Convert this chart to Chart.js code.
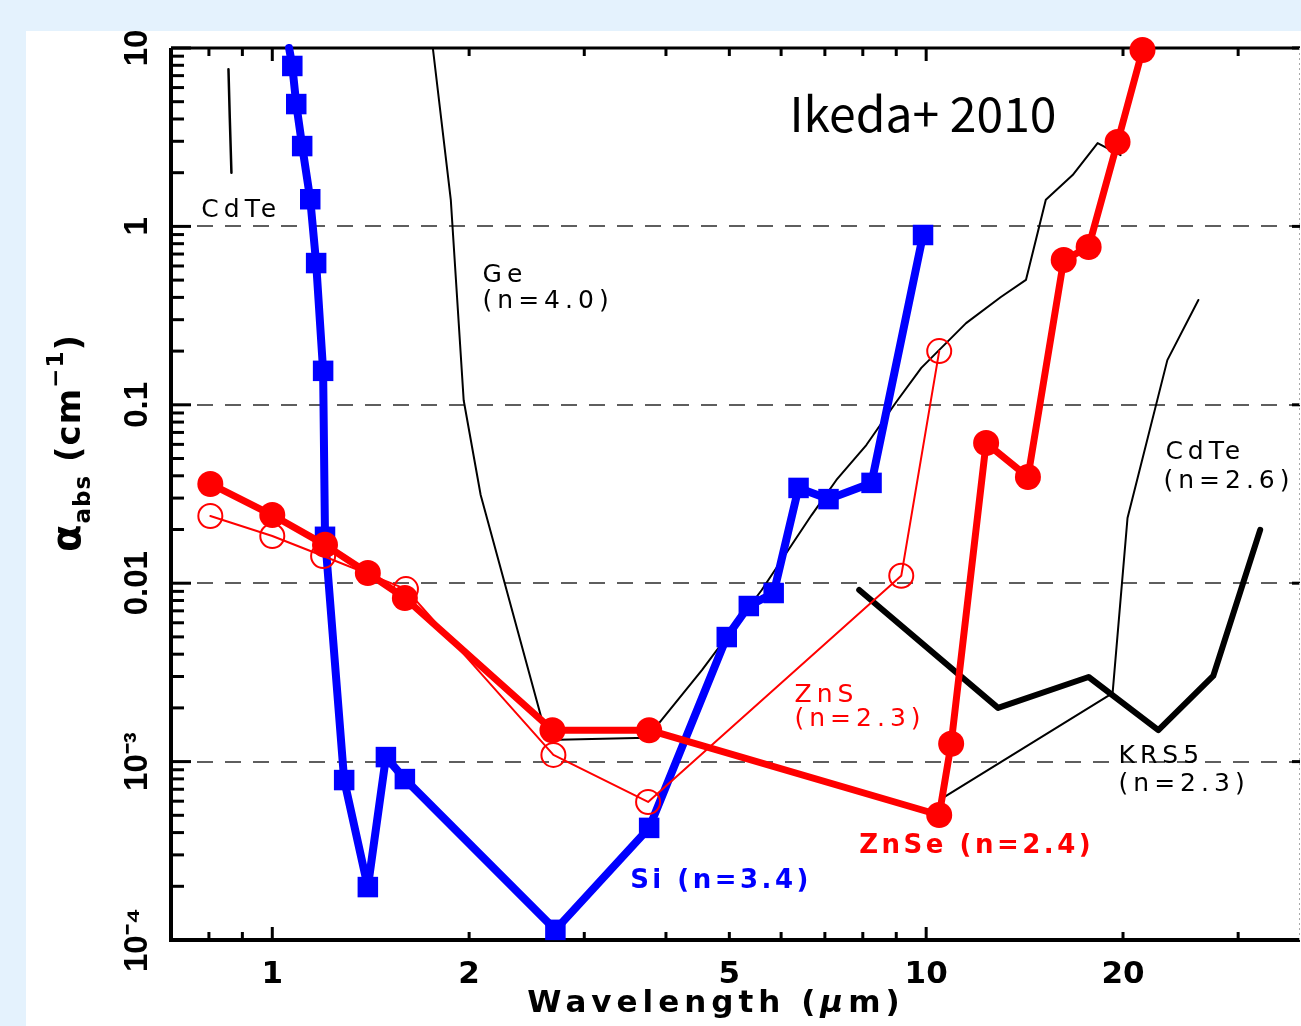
<!DOCTYPE html>
<html lang="en">
<head>
<meta charset="UTF-8" />
<title>Absorption coefficient vs wavelength (Ikeda+ 2010)</title>
<script src="https://cdn.jsdelivr.net/npm/chart.js"></script>
<style>
  body { margin: 0; background: #e4f2fd; }
  #wrap { position: relative; width: 1301px; height: 1026px; overflow: hidden; }
  #panel { position: absolute; left: 26px; top: 31px; right: 0; bottom: 0; background: #fff; }
  canvas { position: absolute; left: 0; top: 0; }
</style>
</head>
<body>
<div id="wrap">
  <div id="panel"></div>
  <canvas id="absChart" width="1301" height="1026"></canvas>
</div>

<script>
// wavelength in micron, alpha_abs in cm^-1
const siWave  = [1.061, 1.073, 1.088, 1.111, 1.143, 1.167, 1.196, 1.204, 1.288, 1.400, 1.492, 1.595, 2.71, 3.77, 4.955, 5.355, 5.845, 6.38, 7.09, 8.25, 9.89];
const siAlpha = [10, 7.93, 4.85, 2.82, 1.42, 0.623, 0.155, 0.0182, 7.88e-4, 1.98e-4, 1.06e-3, 7.98e-4, 1.14e-4, 4.25e-4, 4.99e-3, 7.45e-3, 8.81e-3, 0.0342, 0.0296, 0.0365, 0.895];

const znseWave  = [0.804, 1.0, 1.204, 1.400, 1.595, 2.682, 3.77, 10.47, 10.92, 12.35, 14.31, 16.23, 17.72, 19.62, 21.42];
const znseAlpha = [0.0360, 0.0241, 0.0164, 0.0114, 8.26e-3, 1.50e-3, 1.50e-3, 5.02e-4, 1.26e-3, 0.0611, 0.0394, 0.648, 0.766, 2.97, 9.74];

const znsWave  = [0.804, 1.0, 1.196, 1.601, 2.691, 3.756, 9.16, 10.47];
const znsAlpha = [0.0238, 0.0184, 0.0142, 9.27e-3, 1.09e-3, 5.94e-4, 0.0110, 0.200];

const geWave  = [1.760, 1.875, 1.962, 2.083, 2.635, 3.743, 4.54, 5.604, 6.68, 7.29, 8.10, 9.00, 9.83, 11.51, 13.01, 14.21, 15.24, 16.75, 18.29, 19.83];
const geAlpha = [10, 1.41, 0.106, 0.0312, 1.32e-3, 1.36e-3, 3.26e-3, 9.16e-3, 0.0241, 0.0379, 0.0595, 0.1037, 0.161, 0.287, 0.402, 0.501, 1.41, 1.94, 2.93, 2.51];

const cdteWave  = [10.65, 19.28, 20.32, 23.38, 26.08];
const cdteAlpha = [6.33e-4, 2.42e-3, 0.0232, 0.178, 0.387];

const cdteShortWave  = [0.857, 0.861, 0.866];
const cdteShortAlpha = [7.6, 4.05, 2.0];

const krsWave  = [7.90, 12.88, 17.72, 22.65, 27.48, 32.42];
const krsAlpha = [9.16e-3, 2.00e-3, 2.98e-3, 1.50e-3, 3.02e-3, 0.0199];

// axes
const xTicks      = [0.8, 0.9, 1, 2, 3, 4, 5, 6, 7, 8, 9, 10, 20, 30];
const xLabelVals  = [1, 2, 5, 10, 20];
const xLabelText  = ['1', '2', '5', '10', '20'];
const yDecades    = [1e-4, 1e-3, 0.01, 0.1, 1, 10];
const yDecadeText = ['10\u207B\u2074', '10\u207B\u00B3', '0.01', '0.1', '1', '10'];

// text labels placed in data coordinates (left edge, baseline)
const notes = [
  { text: 'CdTe',         x: 0.779, y: 1.129,   color: '#000', bold: false },
  { text: 'Ge',           x: 2.097, y: 0.488,   color: '#000', bold: false },
  { text: '(n=4.0)',      x: 2.097, y: 0.349,   color: '#000', bold: false },
  { text: 'CdTe',         x: 23.22, y: 0.0497,  color: '#000', bold: false },
  { text: '(n=2.6)',      x: 23.06, y: 0.0342,  color: '#000', bold: false },
  { text: 'ZnS',          x: 6.29,  y: 2.16e-3, color: '#ff0000', bold: false },
  { text: '(n=2.3)',      x: 6.29,  y: 1.58e-3, color: '#ff0000', bold: false },
  { text: 'KRS5',         x: 19.69, y: 9.82e-4, color: '#000', bold: false },
  { text: '(n=2.3)',      x: 19.69, y: 6.84e-4, color: '#000', bold: false },
  { text: 'ZnSe (n=2.4)', x: 7.90,  y: 3.07e-4, color: '#ff0000', bold: true },
  { text: 'Si (n=3.4)',   x: 3.526, y: 1.96e-4, color: '#0000ff', bold: true }
];

const near = (a, b) => Math.abs(Math.log10(a) - Math.log10(b)) < 1e-6;
const isDecade = v => Math.abs(Math.log10(v) - Math.round(Math.log10(v))) < 1e-6;
const pts = (xs, ys) => xs.map((x, i) => ({ x: x, y: ys[i] }));

function yTickList() {
  const list = [];
  for (let d = 0; d < yDecades.length - 1; d++) {
    for (let m = 1; m < 10; m++) list.push(Number((yDecades[d] * m).toPrecision(3)));
  }
  list.push(yDecades[yDecades.length - 1]);
  return list;
}

function drawRuns(ctx, runs, x, y) {
  let cx = x;
  runs.forEach(r => {
    ctx.font = r.font;
    ctx.fillText(r.text, cx, y + (r.dy || 0));
    cx += ctx.measureText(r.text).width;
  });
}
function runsWidth(ctx, runs) {
  let w = 0;
  runs.forEach(r => { ctx.font = r.font; w += ctx.measureText(r.text).width; });
  return w;
}

const frame = {
  id: 'frame',
  beforeDatasetsDraw(chart) {
    const { ctx, chartArea: a, scales: { x, y } } = chart;
    const seg = (x1, y1, x2, y2) => { ctx.beginPath(); ctx.moveTo(x1, y1); ctx.lineTo(x2, y2); ctx.stroke(); };
    ctx.save();
    ctx.strokeStyle = '#000';
    ctx.lineJoin = 'miter';
    ctx.lineWidth = 4;
    ctx.beginPath();
    ctx.moveTo(a.left, a.top); ctx.lineTo(a.left, a.bottom); ctx.lineTo(a.right, a.bottom);
    ctx.stroke();
    ctx.lineWidth = 3;
    seg(a.left, a.top, a.right, a.top);
    // inward tick marks
    x.ticks.forEach(t => {
      const px = x.getPixelForValue(t.value);
      const len = isDecade(t.value) ? 13 : 8;
      seg(px, a.bottom, px, a.bottom - len);
      seg(px, a.top, px, a.top + len);
    });
    y.ticks.forEach(t => {
      const py = y.getPixelForValue(t.value);
      seg(a.left, py, a.left + (isDecade(t.value) ? 20 : 13), py);
      if (isDecade(t.value)) seg(a.right, py, a.right - 8, py);
    });
    // right edge of the cropped frame
    ctx.lineWidth = 1;
    ctx.strokeStyle = '#aaa';
    ctx.setLineDash([2, 3]);
    seg(a.right - 0.5, a.top, a.right - 0.5, a.bottom);
    ctx.restore();
  },
  afterDraw(chart) {
    const { ctx, scales: { x, y } } = chart;
    ctx.save();
    ctx.textBaseline = 'alphabetic';
    ctx.textAlign = 'left';

    // curve labels
    notes.forEach(n => {
      ctx.fillStyle = n.color;
      ctx.letterSpacing = n.bold ? '3.5px' : '5px';
      ctx.font = (n.bold ? 'bold 26px' : '25px') + ' "DejaVu Sans"';
      ctx.fillText(n.text, x.getPixelForValue(n.x), y.getPixelForValue(n.y));
    });

    // x axis title
    ctx.fillStyle = '#000';
    ctx.letterSpacing = '5px';
    const xt = [
      { text: 'Wavelength (', font: 'bold 31px "DejaVu Sans"' },
      { text: '\u00B5', font: 'italic bold 31px "DejaVu Sans"' },
      { text: 'm)', font: 'bold 31px "DejaVu Sans"' }
    ];
    const xw = runsWidth(ctx, xt);
    drawRuns(ctx, xt, 716 - xw / 2, 1012);

    // y axis title, rotated
    ctx.translate(80, 552);
    ctx.rotate(-Math.PI / 2);
    ctx.letterSpacing = '1px';
    drawRuns(ctx, [
      { text: '\u03B1', font: 'bold 40px "DejaVu Sans"' },
      { text: 'abs', font: 'bold 23px "DejaVu Sans"', dy: 10 },
      { text: ' (cm', font: 'bold 34px "DejaVu Sans"' },
      { text: '\u22121', font: 'bold 23px "DejaVu Sans"', dy: -17 },
      { text: ')', font: 'bold 34px "DejaVu Sans"' }
    ], 0, 0);
    ctx.restore();

    // citation
    ctx.save();
    ctx.fillStyle = '#000';
    ctx.font = '48px "Noto Sans CJK JP"';
    ctx.fillText('Ikeda+ 2010', x.getPixelForValue(6.18), y.getPixelForValue(3.38));
    ctx.restore();
  }
};

new Chart(document.getElementById('absChart'), {
  type: 'line',
  data: {
    datasets: [
      { label: 'ZnSe (n=2.4)', data: pts(znseWave, znseAlpha), borderColor: '#ff0000', backgroundColor: '#ff0000',
        borderWidth: 7, pointRadius: 13, pointBorderWidth: 0, pointBackgroundColor: '#ff0000', clip: false },
      { label: 'ZnS (n=2.3)', data: pts(znsWave, znsAlpha), borderColor: '#ff0000', borderWidth: 2,
        pointRadius: 12, pointBorderWidth: 2, pointBorderColor: '#ff0000', pointBackgroundColor: 'rgba(0,0,0,0)', clip: false },
      { label: 'Si (n=3.4)', data: pts(siWave, siAlpha), borderColor: '#0000ff', backgroundColor: '#0000ff',
        borderWidth: 8, pointStyle: 'rect', pointRadius: siWave.map((v, i) => i === 0 ? 0 : 14.5),
        pointBorderWidth: 0, pointBackgroundColor: '#0000ff', clip: false },
      { label: 'KRS5 (n=2.3)', data: pts(krsWave, krsAlpha), borderColor: '#000', borderWidth: 6, pointRadius: 0 },
      { label: 'CdTe (n=2.6)', data: pts(cdteWave, cdteAlpha), borderColor: '#000', borderWidth: 2, pointRadius: 0 },
      { label: 'CdTe short', data: pts(cdteShortWave, cdteShortAlpha), borderColor: '#000', borderWidth: 2.5, pointRadius: 0 },
      { label: 'Ge (n=4.0)', data: pts(geWave, geAlpha), borderColor: '#000', borderWidth: 2, pointRadius: 0 }
    ]
  },
  options: {
    responsive: false,
    animation: false,
    layout: { autoPadding: false, padding: { top: 48, right: 1, left: 0, bottom: 0 } },
    elements: { line: { tension: 0, borderJoinStyle: 'round', borderCapStyle: 'round' } },
    plugins: { legend: { display: false }, tooltip: { enabled: false } },
    scales: {
      x: {
        type: 'logarithmic',
        min: 0.711,
        max: 37.3,
        afterBuildTicks: s => { s.ticks = xTicks.map(v => ({ value: v })); },
        afterFit: s => { s.height = 86; s.paddingLeft = 0; s.paddingRight = 0; },
        grid: { display: false },
        border: { display: false },
        ticks: {
          autoSkip: false, maxRotation: 0, padding: 8, color: '#000',
          font: { family: 'DejaVu Sans', weight: 'bold', size: 31 },
          callback: v => { const i = xLabelVals.findIndex(t => near(t, v)); return i < 0 ? '' : xLabelText[i]; }
        }
      },
      y: {
        type: 'logarithmic',
        min: 1e-4,
        max: 10,
        afterBuildTicks: s => { s.ticks = yTickList().map(v => ({ value: v })); },
        afterFit: s => { s.width = 171; s.paddingTop = 0; s.paddingBottom = 0; },
        grid: {
          drawTicks: false,
          lineWidth: 2,
          color: c => (c.tick && isDecade(c.tick.value) && c.tick.value > 1.5e-4 && c.tick.value < 5) ? '#5e5e5e' : 'rgba(0,0,0,0)'
        },
        border: { display: false, dash: [16, 12], dashOffset: 2 },
        ticks: {
          autoSkip: false, minRotation: 90, maxRotation: 90, crossAlign: 'center', padding: 1, color: '#000',
          font: { family: 'Liberation Sans', weight: 'bold', size: 33 },
          callback: v => { const i = yDecades.findIndex(t => near(t, v)); return i < 0 ? '' : yDecadeText[i]; }
        }
      }
    }
  },
  plugins: [frame]
});
</script>
</body>
</html>
